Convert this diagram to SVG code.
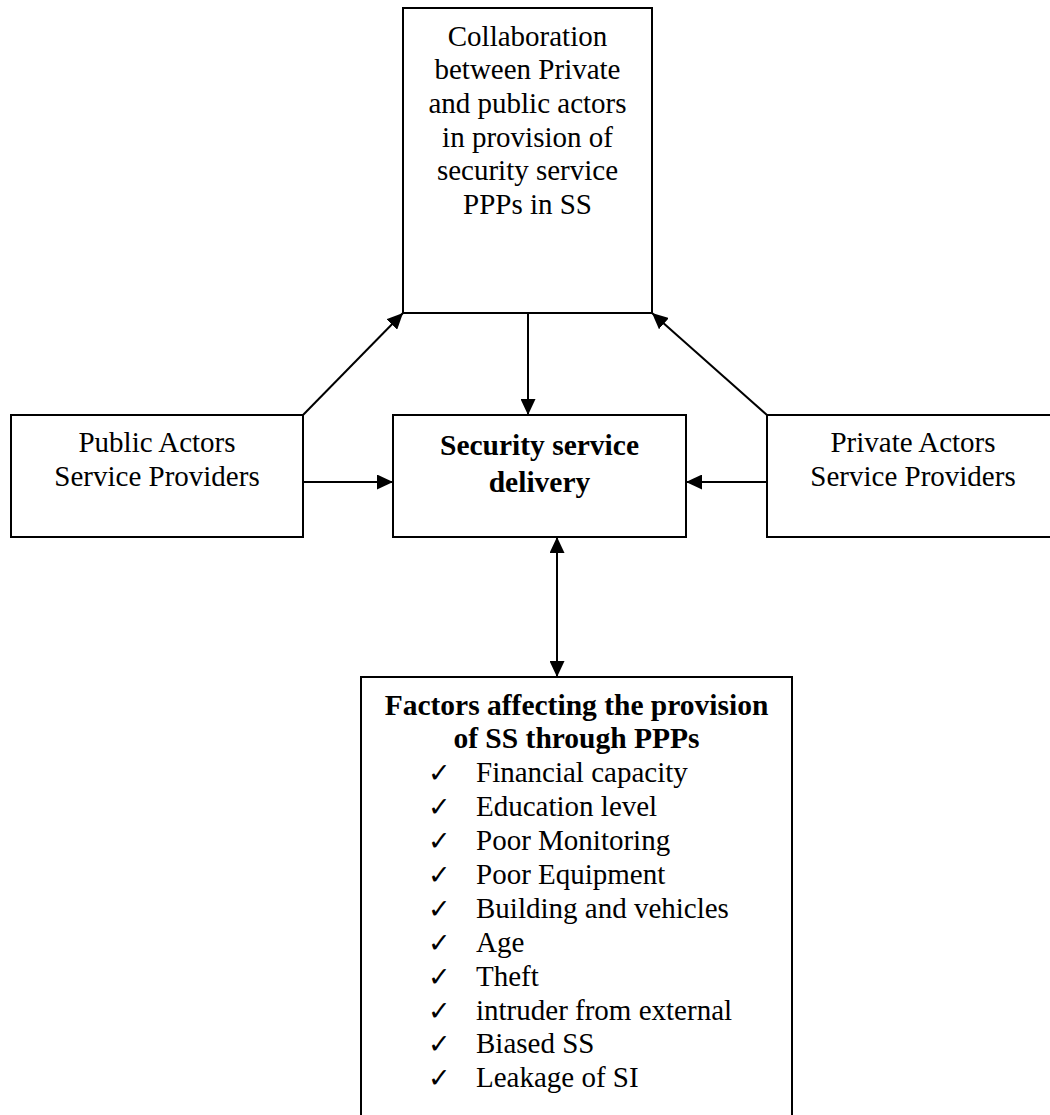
<svg xmlns="http://www.w3.org/2000/svg" width="1050" height="1115" viewBox="0 0 1050 1115" font-family="'Liberation Serif', 'Times New Roman', serif">
<style>
.box{fill:#fff;stroke:#000;stroke-width:2}
.t{font-family:'Liberation Serif','Times New Roman',serif;font-size:29px;fill:#000;text-anchor:middle}
.b{font-weight:bold;font-size:29.5px}
.l{text-anchor:start}
.ck{font-family:'DejaVu Sans',sans-serif;font-size:27px;fill:#000}
.c{stroke:#000;stroke-width:2;fill:none}
</style>
<defs>
<marker id="ah" markerUnits="userSpaceOnUse" markerWidth="17" markerHeight="15" refX="16" refY="7.5" orient="auto-start-reverse">
<path d="M0,0 L16,7.5 L0,15 Z" fill="#000"/>
</marker>
</defs>
<rect width="1050" height="1115" fill="#fff"/>
<g id="collab">
<rect class="box" x="403" y="8" width="249" height="305"/>
<text class="t" x="527.5" y="46">Collaboration</text>
<text class="t" x="527.5" y="79">between Private</text>
<text class="t" x="527.5" y="113">and public actors</text>
<text class="t" x="527.5" y="147">in provision of</text>
<text class="t" x="527.5" y="180">security service</text>
<text class="t" x="527.5" y="214">PPPs in SS</text>
</g>
<g id="public">
<rect class="box" x="11" y="415" width="292" height="122"/>
<text class="t" x="157" y="452">Public Actors</text>
<text class="t" x="157" y="486">Service Providers</text>
</g>
<g id="delivery">
<rect class="box" x="393" y="415" width="293" height="122"/>
<text class="t b" x="539.5" y="455">Security service</text>
<text class="t b" x="539.5" y="492">delivery</text>
</g>
<g id="private">
<rect class="box" x="767" y="415" width="292" height="122"/>
<text class="t" x="913" y="452">Private Actors</text>
<text class="t" x="913" y="486">Service Providers</text>
</g>
<g id="factors">
<rect class="box" x="361" y="677" width="431" height="460"/>
<text class="t b" x="576.5" y="715">Factors affecting the provision</text>
<text class="t b" x="576.5" y="748">of SS through PPPs</text>
<g class="ck">
<text x="428" y="782">✓</text>
<text x="428" y="816">✓</text>
<text x="428" y="850">✓</text>
<text x="428" y="884">✓</text>
<text x="428" y="918">✓</text>
<text x="428" y="952">✓</text>
<text x="428" y="986">✓</text>
<text x="428" y="1020">✓</text>
<text x="428" y="1053">✓</text>
<text x="428" y="1087">✓</text>
</g>
<text class="t l" x="476" y="782">Financial capacity</text>
<text class="t l" x="476" y="816">Education level</text>
<text class="t l" x="476" y="850">Poor Monitoring</text>
<text class="t l" x="476" y="884">Poor Equipment</text>
<text class="t l" x="476" y="918">Building and vehicles</text>
<text class="t l" x="476" y="952">Age</text>
<text class="t l" x="476" y="986">Theft</text>
<text class="t l" x="476" y="1020">intruder from external</text>
<text class="t l" x="476" y="1053">Biased SS</text>
<text class="t l" x="476" y="1087">Leakage of SI</text>
</g>
<g id="connectors">
<line class="c" x1="528" y1="313" x2="528" y2="415" marker-end="url(#ah)"/>
<line class="c" x1="303" y1="415" x2="403" y2="313" marker-end="url(#ah)"/>
<line class="c" x1="767" y1="415" x2="652" y2="313" marker-end="url(#ah)"/>
<line class="c" x1="303" y1="482" x2="393" y2="482" marker-end="url(#ah)"/>
<line class="c" x1="767" y1="482" x2="686" y2="482" marker-end="url(#ah)"/>
<line class="c" x1="557" y1="537" x2="557" y2="677" marker-start="url(#ah)" marker-end="url(#ah)"/>
</g>
</svg>
